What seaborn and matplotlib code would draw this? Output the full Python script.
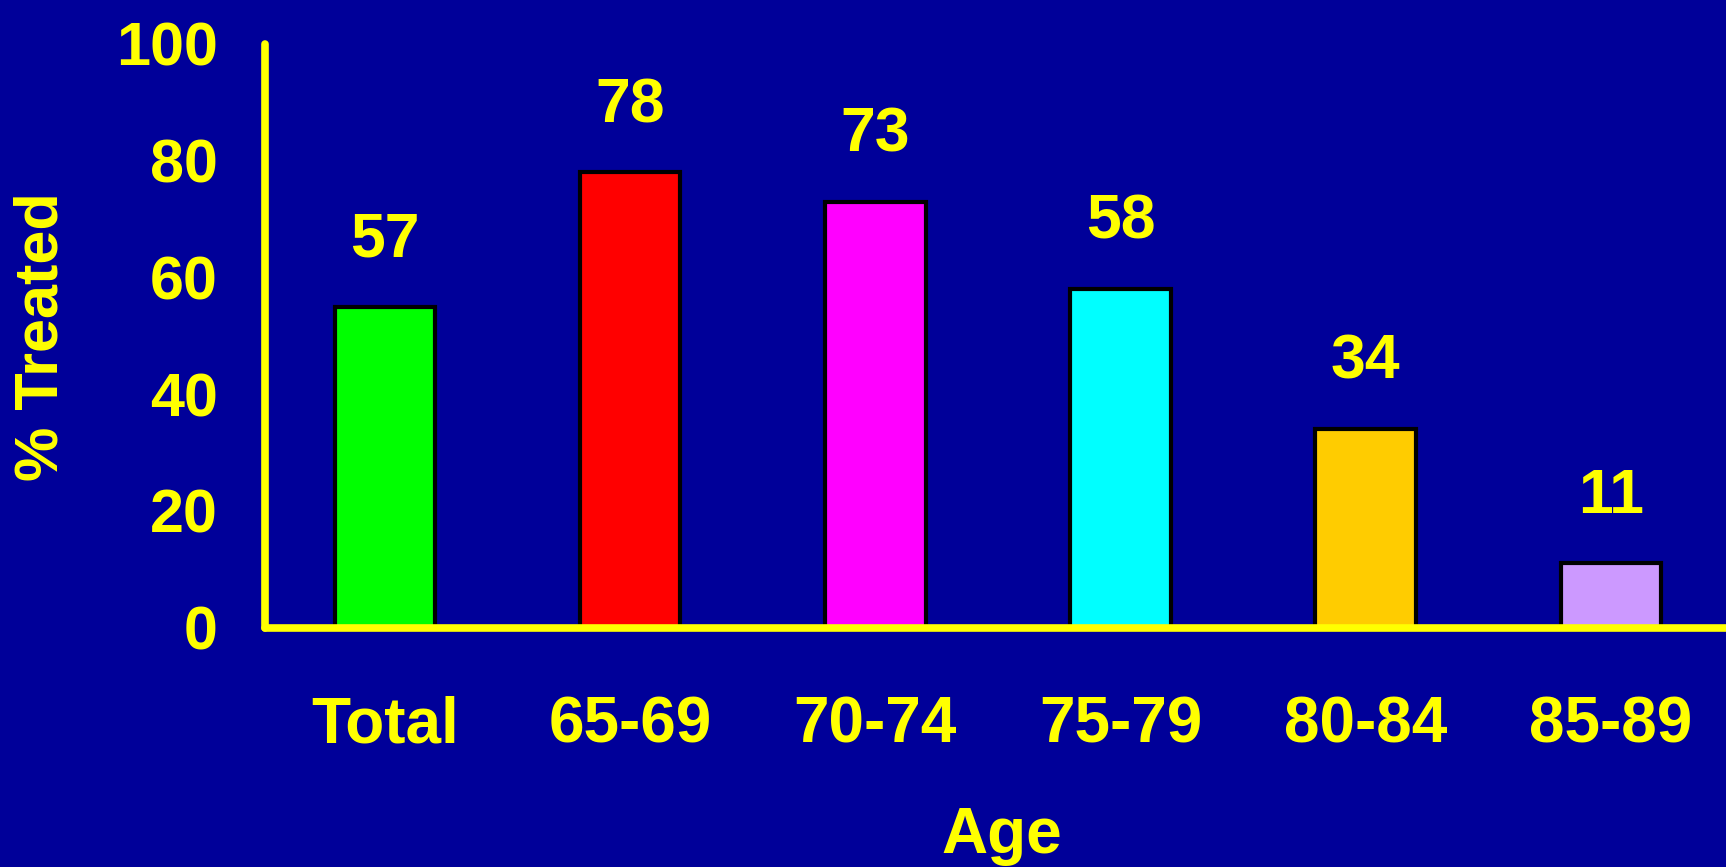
import numpy as np
import pandas as pd
import matplotlib
matplotlib.use("Agg")
import matplotlib.pyplot as plt
import seaborn as sns

# values
ages = ["Total", "65-69", "70-74", "75-79", "80-84", "85-89"]
bar_heights = [55, 78, 73, 58, 34, 11]
bar_labels = ["57", "78", "73", "58", "34", "11"]
bar_colors = ["#00FF00", "#FF0000", "#FF00FF", "#00FFFF", "#FFCC00", "#CC99FF"]
y_ticks = [0, 20, 40, 60, 80, 100]

bg = "#000099"
fg = "#FFFF00"

sns.set_style("white")
plt.rcParams["font.family"] = ["Liberation Sans", "DejaVu Sans"]
plt.rcParams["font.weight"] = "bold"

df = pd.DataFrame({"age": ages, "pct": bar_heights})

fig = plt.figure(figsize=(17.26, 8.67), dpi=100, facecolor=bg)
ax = fig.add_axes([0.1535, 0.2762, 0.8465, 0.6731])
ax.set_facecolor(bg)

sns.barplot(data=df, x="age", y="pct", hue="age", palette=bar_colors,
            legend=False, width=0.41, edgecolor="black", linewidth=3,
            saturation=1, ax=ax)

for i, (h, lab) in enumerate(zip(bar_heights, bar_labels)):
    ax.annotate(lab, (i, h), xytext=(0, 48), textcoords="offset points",
                ha="center", va="center", color=fg, fontsize=45,
                fontweight="bold")

ax.set_ylim(0, 100)
ax.set_xlim(-0.49, 5.47)
ax.set_yticks(y_ticks)
ax.tick_params(axis="y", length=0, pad=34, labelsize=44, labelcolor=fg)
ax.tick_params(axis="x", length=0, pad=49, labelsize=46, labelcolor=fg)
for t in ax.get_xticklabels() + ax.get_yticklabels():
    t.set_fontweight("bold")

for side in ["top", "right"]:
    ax.spines[side].set_visible(False)
for side in ["left", "bottom"]:
    ax.spines[side].set_color(fg)
    ax.spines[side].set_linewidth(5.5)
    ax.spines[side].set_capstyle("round")
    ax.spines[side].set_zorder(5)

ax.set_xlabel("Age", fontsize=46, fontweight="bold", color=fg)
ax.set_ylabel("% Treated", fontsize=44, fontweight="bold", color=fg)
ax.xaxis.label.set_va("center")
ax.yaxis.label.set_va("center")
ax.xaxis.set_label_coords(0.504, -0.358)
ax.yaxis.set_label_coords(-0.1526, 0.498)

fig.savefig("out.png", dpi=100, facecolor=bg)
